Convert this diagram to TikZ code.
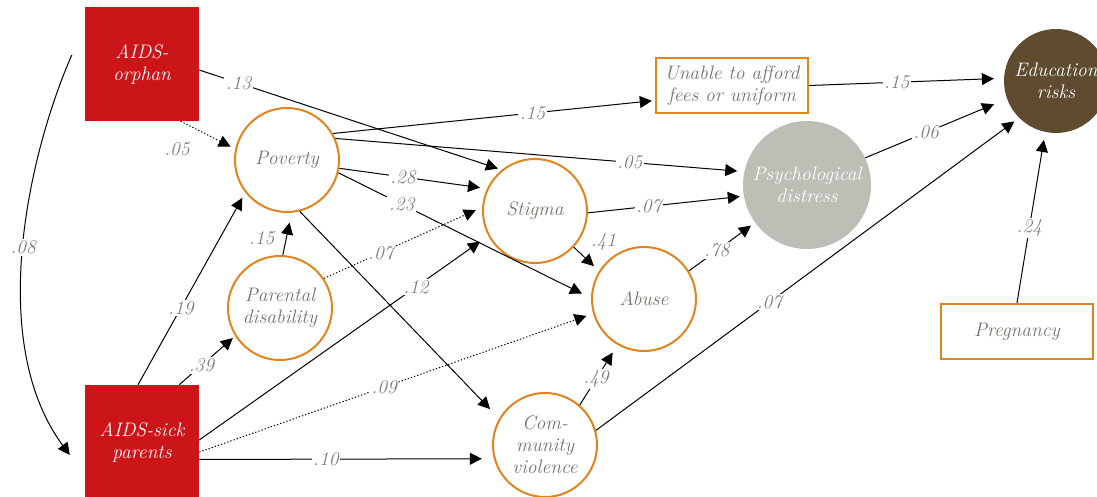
\documentclass[tikz,border=0pt]{standalone}
\usepackage{amsmath}
\usepackage{tikz}
\usetikzlibrary{shapes.geometric, arrows.meta}
\newcommand{\labelFont}{\itshape\fontsize{19.5}{22}\selectfont}
\usepackage[usenames,dvipsnames]{xcolor}
\definecolor{aidsRed}{HTML}{CC1519}
\definecolor{factorOrange}{HTML}{E0841E}
\definecolor{textGrey}{HTML}{74746C}
\definecolor{coefGrey}{HTML}{7E7E77}
\definecolor{distressGrey}{HTML}{BFBEB6}
\definecolor{riskBrown}{HTML}{5F4B2F}
\tikzset{
  redbox/.style={rectangle,fill=aidsRed,text=white,minimum width=114pt,minimum height=114pt,inner sep=0pt,align=center,font=\labelFont},
  factor/.style={circle,draw=factorOrange,line width=2pt,minimum size=104pt,inner sep=0pt,align=center,text=textGrey,font=\labelFont},
  outcome/.style={rectangle,draw=factorOrange,line width=2.4pt,minimum width=152pt,minimum height=55pt,inner sep=0pt,align=center,text=textGrey,font=\labelFont},
  effect/.style={-{Triangle[length=12pt,width=12pt]},line width=1pt},
  weakeffect/.style={effect,dash pattern=on 1.3pt off 2pt},
  coef/.style={fill=white,inner sep=1.5pt,text=coefGrey,font=\labelFont}
}

\begin{document}
\begin{tikzpicture}[x=1pt,y=-1pt]
\useasboundingbox (0,0) rectangle (1097,497);
\node[redbox] (orphan) at (142,64) {AIDS-\\orphan};
\node[redbox] (sick) at (142,442) {AIDS-sick\\parents};
\node[factor] (poverty) at (287,160) {Poverty};
\node[factor] (parental) at (280,308) {Parental\\disability};
\node[factor] (stigma) at (535,211) {Stigma};
\node[factor] (abuse) at (644,299) {Abuse};
\node[factor] (community) at (545,445) {Com-\\munity\\violence};
\node[circle,fill=distressGrey,minimum size=128pt,inner sep=0pt,align=center,text=white,font=\labelFont] (psych) at (807,185) {Psychological\\distress};
\node[circle,fill=riskBrown,minimum size=104pt,inner sep=0pt,align=center,text=white,font=\labelFont] (edu) at (1056,81) {Education\\risks};
\node[outcome] (unable) at (732,85.5) {Unable to afford\\fees or uniform};
\node[outcome] (pregnancy) at (1017,331.5) {Pregnancy};
\draw[effect] ([xshift=-13pt,yshift=9pt]orphan.west) .. controls (30,150) and (-15,340) .. node[coef,pos=.5] {.08} ([xshift=-15pt,yshift=-13pt]sick.west);
\draw[effect,shorten >=4pt] (orphan.-6) -- node[coef,pos=.13] {.13} (stigma.129);
\draw[weakeffect,shorten >=5pt] (orphan.-56) -- node[coef,fill=none,pos=.35,anchor=north east,xshift=-8pt,yshift=-10pt] {.05} (poverty.168);
\draw[effect,shorten >=3pt] (poverty.30) -- node[coef,pos=.62] {.15} (unable.191);
\draw[effect,shorten >=7pt] (poverty.24) -- node[coef,pos=.72] {.05} (psych.168);
\draw[effect,shorten >=7pt] (poverty.-9) -- node[coef,pos=.43] {.28} (stigma.155);
\draw[effect,shorten >=10pt] (poverty.-14) -- node[coef,pos=.25] {.23} (abuse.179);
\draw[effect,shorten >=13pt] (poverty.-76) -- (community.150);
\draw[effect,shorten >=10pt] (parental.87) -- node[coef,fill=none,pos=.4,left=10pt] {.15} (poverty.-85);
\draw[weakeffect,shorten >=7pt] (parental.34) -- node[coef,pos=.36] {.07} (stigma.176);
\draw[effect,shorten >=6pt] (sick.94) -- node[coef,pos=.4] {.19} (poverty.218);
\draw[effect,shorten >=3pt] (sick.57) -- node[coef,pos=.4] {.39} (parental.212);
\draw[effect,shorten >=10pt] (sick.2) -- node[coef,pos=.75] {.12} (stigma.208);
\draw[weakeffect,shorten >=7pt] (sick.-10) -- node[coef,pos=.47] {.09} (abuse.196);
\draw[effect,shorten >=12pt] (sick.-17) -- node[coef,pos=.43] {.10} (community.195);
\draw[effect,shorten >=4pt] (stigma.-2) -- node[coef,pos=.39] {.07} (psych.190);
\draw[effect,shorten >=7pt] (stigma.-43) -- node[coef,fill=none,pos=.4,anchor=south west,xshift=5pt,yshift=4pt] {.41} (abuse.148);
\draw[effect,shorten >=5pt] (abuse.32) -- node[coef,pos=.42] {.78} (psych.216);
\draw[effect,shorten >=9pt] (community.49) -- node[coef,pos=.43] {.49} (abuse.240);
\draw[effect,shorten >=6pt] (community.16) -- node[coef,pos=.41] {.07} (edu.225);
\draw[effect,shorten >=10pt] (unable.east) -- node[coef,pos=.45] {.15} (edu.177);
\draw[effect,shorten >=14pt] (psych.25) -- node[coef,pos=.43] {.06} (edu.200);
\draw[effect,shorten >=8pt] (pregnancy.north) -- node[coef,pos=.44] {.24} (edu.258);
\end{tikzpicture}
\end{document}
